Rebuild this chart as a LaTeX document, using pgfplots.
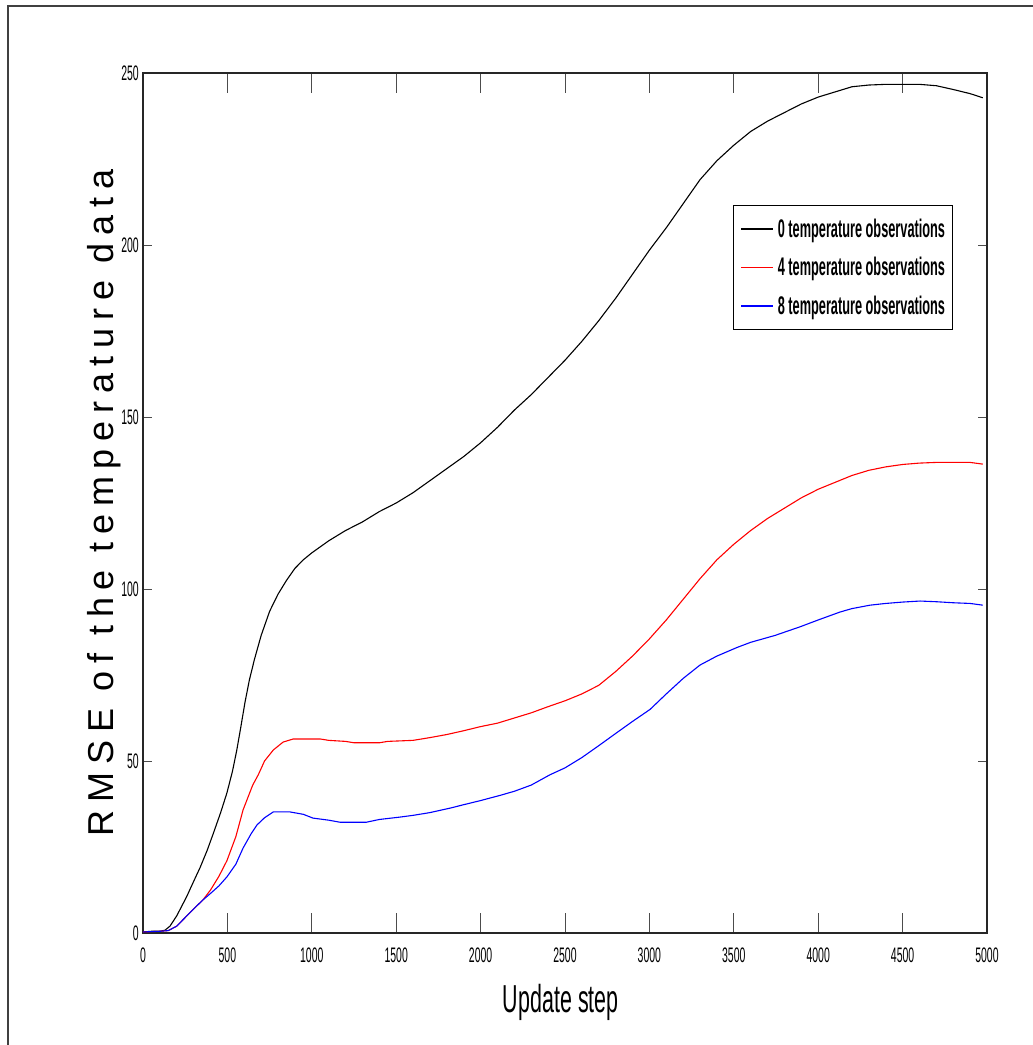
\documentclass[border=0pt]{standalone}
\usepackage{graphicx}
\usepackage{pgfplots}
\pgfplotsset{compat=1.18}
\usepackage{fontspec}
\setmainfont{Liberation Sans}
\newfontfamily\ylabfont[LetterSpace=21.5]{Liberation Sans}
\newcommand{\nar}[1]{\scalebox{0.5}[1]{#1}}
\begin{document}
\begin{tikzpicture}
\useasboundingbox (-143pt,-112pt) rectangle (890pt,933pt);
\draw[line width=1.5pt, black!75] (-135pt,-112pt) -- (-135pt,927pt) -- (890pt,927pt);
\begin{axis}[
  at={(0pt,0pt)}, anchor=south west,
  scale only axis, width=844pt, height=860pt,
  xmin=0, xmax=5000, ymin=0, ymax=250,
  xtick={0,500,...,5000}, ytick={0,50,...,250},
  tick align=inside,
  axis line style={line width=1.5pt, black!85},
  every tick/.style={black!70, line width=0.9pt},
  xtick style={/pgfplots/major tick length=20pt},
  ytick style={/pgfplots/major tick length=9pt},
  /pgf/number format/.cd, 1000 sep={}, assume math mode=true, /pgfplots/.cd,
  xticklabel={\nar{\pgfmathprintnumber{\tick}}},
  yticklabel={\nar{\pgfmathprintnumber{\tick}}},
  tick label style={font=\fontsize{21}{21}\selectfont, inner sep=0pt},
  xticklabel style={yshift=-15pt},
  yticklabel style={xshift=-4pt},
  xlabel={\scalebox{0.55}[1]{Update step}},
  xlabel style={font=\fontsize{39}{39}\selectfont, at={(axis description cs:0.495,-0.081)}, anchor=center},
  ylabel={\ylabfont RMSE of the temperature data},
  ylabel style={font=\fontsize{36}{36}\selectfont, at={(axis description cs:-0.0462,0.5)}, anchor=center},
  legend style={at={(axis description cs:0.699,0.8465)}, anchor=north west, draw=black, line width=1pt,
    font=\bfseries\fontsize{25.5}{25.5}\selectfont, inner xsep=7pt, inner ysep=13.5pt, row sep=18.5pt,
    nodes={inner sep=0pt}, column sep=4pt, cells={anchor=west}},
  legend image code/.code={\draw[#1, line width=1.4pt] (0pt,0pt) -- (32pt,0pt);},
]
\addplot[black, line width=1.1pt] coordinates {
(0,0.3)(50,0.5)(100,0.5)(130,0.8)(160,2)(200,5)(259,10.6)(300,15)(338,19)(380,24)(417,29)(460,35)(497,40.7)(530,47)(555,53)(580,60)(604,67)(630,73.5)(660,79.5)(700,86.5)(750,93.5)(800,98.5)(850,102.5)(900,106)(950,108.5)(1000,110.5)(1100,114)(1200,117)(1300,119.5)(1400,122.5)(1500,125)(1600,128)(1700,131.5)(1800,135)(1900,138.5)(2000,142.5)(2100,147)(2200,152)(2300,156.5)(2400,161.5)(2500,166.5)(2600,172)(2700,178)(2800,184.5)(2900,191.5)(3000,198.5)(3100,205)(3200,212)(3300,219)(3400,224.5)(3500,229)(3600,233)(3700,236)(3800,238.5)(3900,241)(4000,243)(4100,244.5)(4200,246)(4300,246.5)(4400,246.7)(4500,246.7)(4600,246.7)(4700,246.3)(4800,245.2)(4900,244)(4975,242.8)
};
\addlegendentry{\nar{0 temperature observations}}
\addplot[red, line width=1.1pt] coordinates {
(0,0.3)(100,0.5)(150,0.7)(200,2)(250,4.5)(300,7)(355,9.6)(400,12.5)(450,16.5)(497,21)(550,28)(593,35.8)(650,43)(683,46)(720,50)(772,53.2)(830,55.5)(890,56.4)(1050,56.4)(1100,56)(1200,55.7)(1250,55.3)(1400,55.3)(1450,55.7)(1600,56)(1700,56.8)(1800,57.7)(1900,58.8)(2000,60)(2100,61)(2200,62.5)(2300,64)(2400,65.8)(2500,67.5)(2600,69.5)(2700,72)(2800,76)(2900,80.5)(3000,85.5)(3100,91)(3200,97)(3300,103)(3400,108.5)(3500,113)(3600,117)(3700,120.5)(3800,123.5)(3900,126.5)(4000,129)(4100,131)(4200,133)(4300,134.5)(4400,135.5)(4500,136.2)(4600,136.6)(4700,136.8)(4800,136.8)(4900,136.8)(4975,136.3)
};
\addlegendentry{\nar{4 temperature observations}}
\addplot[blue, line width=1.1pt] coordinates {
(0,0.3)(100,0.5)(150,0.7)(200,2)(250,4.5)(300,7)(355,9.6)(400,11.5)(450,13.7)(497,16.3)(550,20)(593,24.7)(640,28.8)(675,31.4)(720,33.5)(772,35.2)(870,35.2)(950,34.5)(1007,33.4)(1100,32.8)(1167,32.2)(1323,32.2)(1400,33)(1523,33.7)(1600,34.2)(1700,35)(1819,36.3)(1900,37.3)(2000,38.5)(2115,40)(2200,41.2)(2300,43)(2411,46)(2500,48)(2600,51)(2707,54.7)(2800,58)(2900,61.5)(3004,65)(3100,69.5)(3200,74)(3300,77.9)(3400,80.5)(3519,83)(3600,84.5)(3744,86.5)(3892,89)(4000,91)(4129,93.3)(4200,94.3)(4307,95.3)(4400,95.8)(4500,96.2)(4603,96.5)(4700,96.3)(4800,96)(4900,95.8)(4975,95.3)
};
\addlegendentry{\nar{8 temperature observations}}
\end{axis}
\end{tikzpicture}
\end{document}
